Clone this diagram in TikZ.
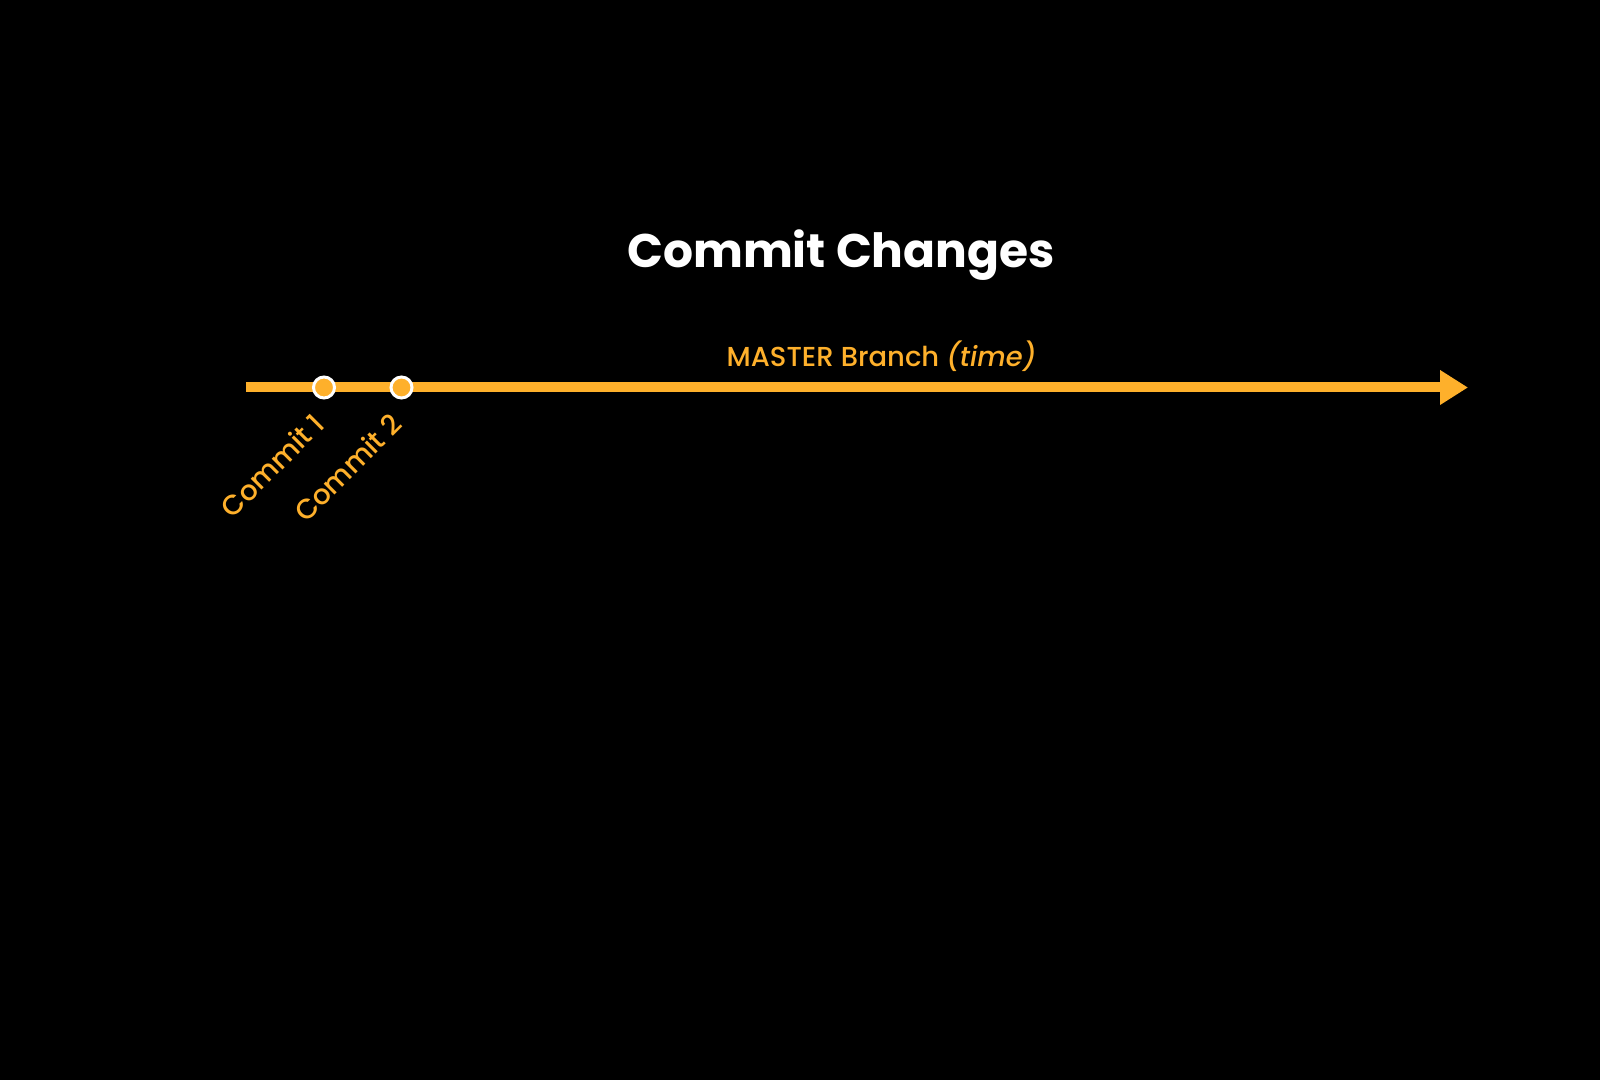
\documentclass[tikz,border=0pt]{standalone}
\usepackage{fontspec}
\setmainfont{Poppins}[UprightFont=* Medium, ItalicFont=* Medium Italic, BoldFont=* Bold]
\usepackage{tikz}
\usetikzlibrary{arrows.meta}
\usetikzlibrary{positioning}
\definecolor{branch}{HTML}{FEB02B}

\begin{document}
\begin{tikzpicture}[x=0.01cm, y=-0.01cm,
	commit/.style={circle, draw=white, fill=branch, line width=0.03cm, minimum size=0.21cm, inner sep=0pt},
	commitlabel/.style={text=branch, font=\fontsize{7.9}{9}\selectfont, rotate=45, anchor=east, inner sep=0pt}]
\fill[black] (0,0) rectangle (1600,1080);
\node[text=white, font=\fontsize{13.4}{16}\selectfont\bfseries, anchor=base] (title) at (841,268) {Commit Changes};
\coordinate (start) at (246,387.5);
\coordinate (end) at (1468,387.5);
\path
(start) edge [-{Triangle[length=0.28cm,width=0.33cm]}, draw=branch, line width=0.1cm] node [pos=0.52, anchor=base, yshift=0.205cm, text=branch, font=\fontsize{7.8}{9}\selectfont] {MASTER Branch \textit{(time)}} (end)
;
\node[commit] (c1) at (324,387.5) {};
\node[commit] (c2) at (401.5,387.5) {};
\node[commitlabel] (l1) at ([shift={(-5,31)}]c1.center) {Commit 1};
\node[commitlabel] (l2) at ([shift={(-5,31)}]c2.center) {Commit 2};
\end{tikzpicture}
\end{document}
